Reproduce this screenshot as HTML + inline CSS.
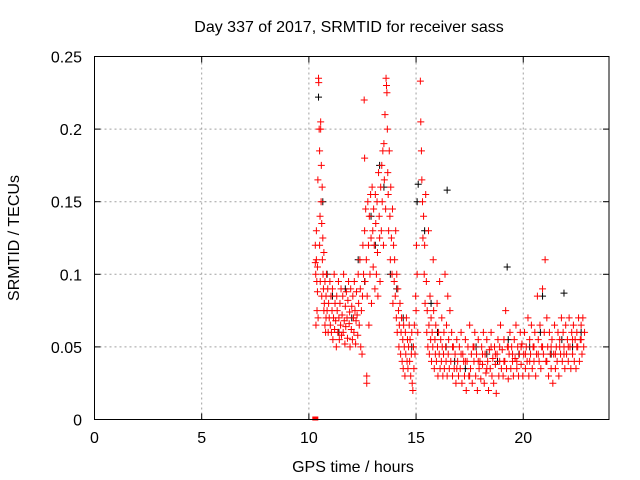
<!DOCTYPE html>
<html><head><meta charset="utf-8"><style>
body{margin:0;background:#fff;}
svg{display:block;font-family:"Liberation Sans",sans-serif;}
</style></head><body>
<svg id="chart" width="640" height="480">
<rect width="640" height="480" fill="#fff"/>
<text x="349" y="32" text-anchor="middle" font-size="16">Day 337 of 2017, SRMTID for receiver sass</text>
<text x="353" y="472" text-anchor="middle" font-size="16">GPS time / hours</text>
<text transform="translate(19,238) rotate(-90)" text-anchor="middle" font-size="16">SRMTID / TECUs</text>
<g id="grid"></g><g id="ticks"></g><g id="marks"></g>
<rect x="94.5" y="56.5" width="514.5" height="363" fill="none" stroke="#000" stroke-width="1"/>
</svg>
<script>
const xTicks=[0,5,10,15,20];
const yTicks=[0,0.05,0.1,0.15,0.2,0.25];
const yTickLabels=["0","0.05","0.1","0.15","0.2","0.25"];
const redEarly=[[10.3,.108],[10.3,.12],[10.32,.1],[10.33,.065],[10.35,.13],[10.35,.11],[10.37,.095],[10.38,.075],[10.4,.105],[10.4,.088],[10.42,.165],[10.43,.07],[10.45,.235],[10.46,.232],[10.48,.2],[10.5,.185],[10.5,.12],[10.52,.14],[10.53,.095],[10.55,.205],[10.55,.2],[10.57,.15],[10.58,.175],[10.6,.135],[10.6,.085],[10.62,.16],[10.63,.11],[10.65,.125],[10.66,.1],[10.68,.09],[10.7,.075],[10.7,.115],[10.72,.08],[10.75,.095],[10.75,.065],[10.78,.06],[10.8,.085],[10.8,.07],[10.82,.1],[10.85,.075],[10.88,.09],[10.9,.06],[10.92,.08],[10.95,.07],[10.98,.095]];
const redMorning=[[11,.065],[11.03,.085],[11.05,.06],[11.08,.075],[11.1,.09],[11.12,.055],[11.15,.07],[11.18,.1],[11.2,.062],[11.22,.08],[11.25,.068],[11.28,.05],[11.3,.085],[11.32,.075],[11.35,.06],[11.38,.095],[11.4,.07],[11.42,.055],[11.45,.08],[11.48,.065],[11.5,.09],[11.52,.058],[11.55,.072],[11.58,.085],[11.6,.06],[11.62,.1],[11.65,.068],[11.68,.052],[11.7,.078],[11.72,.064],[11.75,.088],[11.78,.07],[11.8,.056],[11.82,.082],[11.85,.095],[11.88,.066],[11.9,.074],[11.92,.05],[11.95,.09],[11.98,.062],[12,.078],[12.03,.055],[12.05,.085],[12.08,.07],[12.1,.06],[12.12,.095],[12.15,.075],[12.18,.052],[12.2,.068],[12.22,.088],[12.25,.072],[12.28,.058],[12.3,.1],[12.32,.08],[12.35,.065],[12.38,.11],[12.4,.09],[12.42,.05],[12.45,.075],[12.48,.045]];
const redPeak=[[12.5,.085],[12.52,.12],[12.55,.1],[12.58,.22],[12.6,.18],[12.6,.13],[12.62,.095],[12.65,.145],[12.68,.11],[12.7,.025],[12.7,.03],[12.72,.085],[12.75,.15],[12.78,.12],[12.8,.065],[12.82,.14],[12.85,.1],[12.88,.155],[12.9,.125],[12.92,.08],[12.95,.16],[12.98,.13],[13,.105],[13.02,.145],[13.05,.12],[13.08,.09],[13.1,.155],[13.12,.135],[13.15,.1],[13.18,.15],[13.2,.115],[13.22,.085],[13.25,.17],[13.28,.14],[13.3,.125],[13.32,.095],[13.35,.16],[13.38,.13],[13.4,.175],[13.42,.15],[13.45,.185],[13.48,.12],[13.5,.19],[13.52,.165],[13.55,.21],[13.58,.145],[13.6,.235],[13.62,.23],[13.64,.225],[13.66,.2],[13.68,.17],[13.7,.155],[13.72,.13],[13.75,.185],[13.78,.14],[13.8,.11],[13.82,.16],[13.85,.125],[13.88,.1],[13.9,.145],[13.92,.08],[13.95,.12],[13.98,.095]];
const redDecay=[[14,.11],[14.03,.085],[14.05,.13],[14.08,.07],[14.1,.1],[14.12,.06],[14.15,.09],[14.18,.075],[14.2,.05],[14.22,.065],[14.25,.08],[14.28,.045],[14.3,.06],[14.32,.07],[14.35,.04],[14.38,.055],[14.4,.035],[14.42,.065],[14.45,.05],[14.48,.03],[14.5,.06],[14.52,.045],[14.55,.07],[14.58,.04],[14.6,.055],[14.62,.035],[14.65,.05],[14.68,.065],[14.7,.04],[14.72,.055],[14.75,.03],[14.78,.045],[14.8,.06],[14.82,.025],[14.85,.02],[14.88,.05],[14.9,.035],[14.92,.065],[14.95,.045],[14.98,.085],[15,.075],[15.02,.12],[15.05,.1],[15.08,.06]];
const redSecond=[[15.2,.233],[15.22,.205],[15.25,.185],[15.27,.165],[15.3,.15],[15.32,.125],[15.35,.14],[15.38,.1],[15.4,.12],[15.42,.08],[15.45,.155],[15.48,.095],[15.5,.06],[15.52,.075],[15.55,.05],[15.58,.13],[15.6,.065],[15.62,.045],[15.65,.085],[15.68,.055],[15.7,.07],[15.72,.04],[15.75,.06],[15.78,.05],[15.8,.11],[15.82,.075],[15.85,.035],[15.88,.055],[15.9,.045],[15.92,.065],[15.95,.04],[15.98,.08],[16,.05],[16.02,.03],[16.05,.06],[16.08,.045],[16.1,.095],[16.12,.035],[16.15,.055],[16.18,.04],[16.2,.07],[16.22,.05],[16.25,.03],[16.28,.045],[16.3,.06],[16.32,.035],[16.35,.1],[16.38,.05],[16.4,.04],[16.42,.065],[16.45,.03],[16.48,.085],[16.5,.045],[16.52,.055],[16.55,.035],[16.58,.075]];
const redLate=[[16.62,.04],[16.66,.06],[16.7,.03],[16.74,.05],[16.78,.035],[16.82,.045],[16.86,.025],[16.9,.055],[16.94,.04],[16.98,.03],[17.02,.05],[17.06,.035],[17.1,.06],[17.14,.025],[17.18,.045],[17.22,.04],[17.26,.03],[17.3,.055],[17.34,.02],[17.38,.04],[17.42,.05],[17.46,.03],[17.5,.065],[17.54,.035],[17.58,.045],[17.62,.025],[17.66,.05],[17.7,.04],[17.74,.06],[17.78,.03],[17.82,.045],[17.86,.02],[17.9,.055],[17.94,.035],[17.98,.04],[18.02,.028],[18.06,.05],[18.1,.038],[18.14,.06],[18.18,.025],[18.22,.045],[18.26,.032],[18.3,.055],[18.34,.04],[18.38,.02],[18.42,.048],[18.46,.035],[18.5,.06],[18.54,.03],[18.58,.042],[18.62,.025],[18.66,.05],[18.7,.038],[18.74,.018],[18.78,.045],[18.82,.055],[18.86,.03],[18.9,.04],[18.94,.065],[18.98,.035],[19.02,.048],[19.06,.03],[19.1,.055],[19.14,.04],[19.18,.075],[19.22,.035],[19.26,.05],[19.3,.028],[19.34,.045],[19.38,.06],[19.42,.035],[19.46,.05],[19.5,.04],[19.54,.03],[19.58,.055],[19.62,.042],[19.66,.065],[19.7,.035],[19.74,.05],[19.78,.03],[19.82,.045],[19.86,.06],[19.9,.038],[19.94,.052],[19.98,.03],[20.02,.045],[20.06,.06],[20.1,.035],[20.14,.05],[20.18,.04],[20.22,.07],[20.26,.03],[20.3,.055],[20.34,.045],[20.38,.065],[20.42,.035],[20.46,.05],[20.5,.04],[20.54,.06],[20.58,.03],[20.62,.045],[20.66,.085],[20.7,.055],[20.74,.04],[20.78,.065],[20.82,.035],[20.86,.05],[20.9,.09],[20.94,.045],[20.98,.06],[21.02,.11],[21.06,.04],[21.1,.07],[21.14,.05],[21.18,.03],[21.22,.06],[21.26,.045],[21.3,.035],[21.34,.055],[21.38,.025],[21.42,.045],[21.46,.065],[21.5,.035],[21.54,.05],[21.58,.04],[21.62,.06],[21.66,.03],[21.7,.055],[21.74,.045],[21.78,.07],[21.82,.04],[21.86,.06],[21.9,.05],[21.94,.035],[21.98,.065],[22.02,.045],[22.06,.055],[22.1,.04],[22.14,.07],[22.18,.05],[22.22,.035],[22.26,.06],[22.3,.045],[22.34,.065],[22.38,.04],[22.42,.055],[22.46,.035],[22.5,.06],[22.54,.05],[22.58,.07],[22.62,.04],[22.66,.055],[22.7,.065],[22.74,.045],[22.78,.07],[22.82,.05],[22.86,.06],
[16.7,.05],[16.9,.035],[17.1,.045],[17.3,.04],[17.5,.03],[17.7,.05],[17.9,.04],[18.1,.045],[18.3,.035],[18.5,.05],[18.7,.045],[18.9,.05],[19.1,.04],[19.3,.05],[19.5,.045],[19.7,.04],[19.9,.05],[20.1,.045],[20.3,.04],[20.5,.05],[20.7,.045],[20.9,.05],[21.1,.04],[21.3,.05],[21.5,.045],[21.7,.05],[21.9,.045],[22.1,.05],[22.3,.055],[22.5,.05],[22.7,.055]];
const blackPts=[[10.45,.222],[10.65,.15],[10.85,.1],[11.1,.085],[11.4,.06],[11.7,.09],[12.0,.07],[12.3,.11],[12.6,.095],[12.9,.14],[13.1,.12],[13.3,.175],[13.5,.16],[13.8,.1],[14.1,.09],[14.4,.07],[14.8,.05],[15.1,.162],[15.4,.13],[15.7,.08],[16.0,.06],[16.4,.05],[16.8,.04],[17.3,.035],[17.8,.05],[18.3,.045],[18.8,.04],[19.3,.055],[19.8,.045],[20.3,.05],[20.8,.06],[21.3,.045],[21.8,.055],[22.3,.05],[22.7,.06],[15.05,.15],[16.45,.158],[19.25,.105],[20.9,.085],[21.9,.087]];
const X0=94.5,X1=609,Y0=419.5,Y1=56.5,XMAX=24,YMAX=0.25;
function xs(t){return X0+(X1-X0)*t/XMAX;}
function ys(v){return Y0-(Y0-Y1)*v/YMAX;}
const NS='http://www.w3.org/2000/svg';
function mk(tag,attrs,parent){const e=document.createElementNS(NS,tag);for(const k in attrs)e.setAttribute(k,attrs[k]);parent.appendChild(e);return e;}
const grid=document.getElementById('grid'),ticks=document.getElementById('ticks'),marks=document.getElementById('marks');
xTicks.forEach(t=>{const x=xs(t);
 if(t>0){const g=mk('line',{x1:x,y1:Y0,x2:x,y2:Y1,stroke:'#a0a0a0','stroke-dasharray':'2,3'},grid);
 
 }
 mk('line',{x1:x,y1:Y0,x2:x,y2:Y0-6,stroke:'#000'},ticks);mk('line',{x1:x,y1:Y1,x2:x,y2:Y1+6,stroke:'#000'},ticks);
 const l=mk('text',{x:x,y:443,'text-anchor':'middle','font-size':16},ticks);l.textContent=String(t);
 
 });
yTicks.forEach((v,i)=>{const y=ys(v);
 if(v>0&&v<YMAX){const g=mk('line',{x1:X0,y1:y,x2:X1,y2:y,stroke:'#a0a0a0','stroke-dasharray':'2,3'},grid);
 
 }
 mk('line',{x1:X0,y1:y,x2:X0+6,y2:y,stroke:'#000'},ticks);mk('line',{x1:X1,y1:y,x2:X1-6,y2:y,stroke:'#000'},ticks);
 const l=mk('text',{x:82,y:y+6,'text-anchor':'end','font-size':16},ticks);l.textContent=yTickLabels[i];
 
 });
function plus(t,v,c,name){const x=xs(t),y=ys(v);
 const p=mk('path',{d:`M${x-3.5},${y}H${x+3.5}M${x},${y-3.5}V${y+3.5}`,stroke:c,'stroke-width':1,fill:'none'},marks);
 
 }
blackPts.forEach(p=>plus(p[0],p[1],'#000','black-point'));
[redEarly,redMorning,redPeak,redDecay,redSecond,redLate].forEach(arr=>arr.forEach(p=>plus(p[0],p[1],'#f00','red-point')));
const sq=mk('rect',{x:xs(10.3)-3,y:Y0-3,width:6,height:4,fill:'#f00'},marks);


</script>
</body></html>
